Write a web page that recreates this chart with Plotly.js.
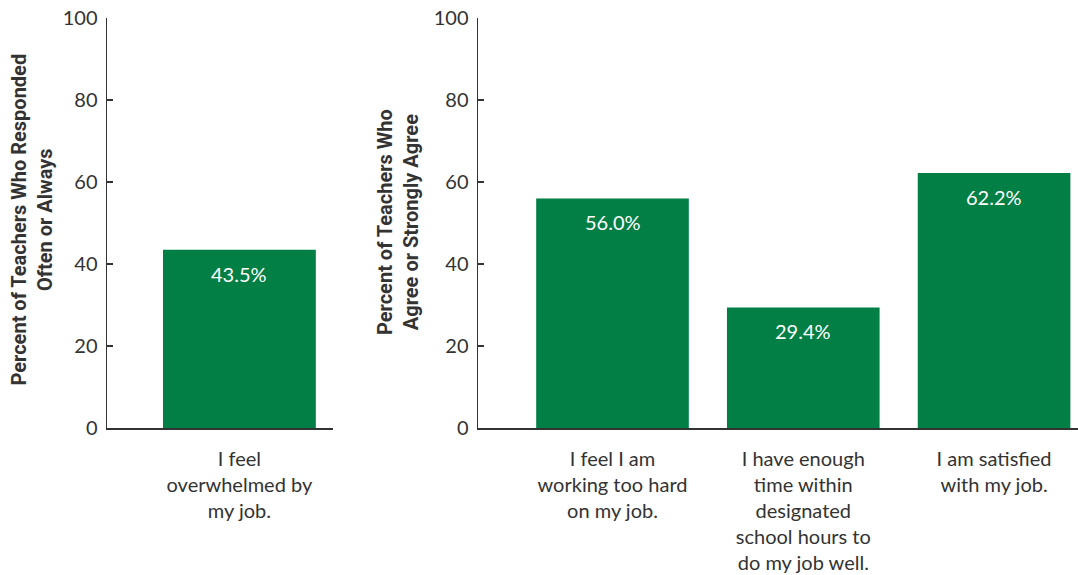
<!DOCTYPE html>
<html>
<head>
<meta charset="utf-8">
<script src="https://cdn.plot.ly/plotly-3.0.1.min.js"></script>
<style>html,body{margin:0;padding:0;background:#fff;}#chart{width:1078px;height:575px;}</style>
</head>
<body>
<div id="chart"></div>
<script>
const leftCategories = ["I feel<br>overwhelmed by<br>my job."];
const leftValues = [43.5];
const rightCategories = [
  "I feel I am<br>working too hard<br>on my job.",
  "I have enough<br>time within<br>designated<br>school hours to<br>do my job well.",
  "I am satisfied<br>with my job."
];
const rightValues = [56.0, 29.4, 62.2];
const yTicks = [0, 20, 40, 60, 80, 100];
const leftTitle = "Percent of Teachers Who Responded<br>Often or Always";
const rightTitle = "Percent of Teachers Who<br>Agree or Strongly Agree";

const green = "#017f45";
const fontFam = "Lato, 'Open Sans', sans-serif";
const titleFam = "Roboto, 'Liberation Sans', sans-serif";

const traces = [
  {
    type: "bar", x: leftCategories.map((c, i) => i), y: leftValues,
    xaxis: "x", yaxis: "y", width: 0.8,
    marker: { color: green }, hoverinfo: "skip"
  },
  {
    type: "bar", x: rightCategories.map((c, i) => i), y: rightValues,
    xaxis: "x2", yaxis: "y2", width: 0.8,
    marker: { color: green }, hoverinfo: "skip"
  }
];

function valueLabels(values, xref, yref) {
  return values.map((v, i) => ({
    x: i, y: v, xref: xref, yref: yref,
    text: v.toFixed(1) + "%", showarrow: false,
    xanchor: "center", yanchor: "middle", yshift: -24,
    font: { family: fontFam, size: 20, color: "#ffffff" }
  }));
}

const W = 1078, H = 575;
const yDom = [1 - 428 / H, 1 - 18 / H];
const yAxisCommon = {
  range: [0, 100], tickvals: yTicks, ticktext: yTicks.map(String),
  ticks: "inside", ticklen: 6, tickcolor: "#333", tickwidth: 1.5,
  showline: true, linecolor: "#333", linewidth: 1.5,
  showgrid: false, zeroline: false, fixedrange: true,
  tickfont: { family: fontFam, size: 20, color: "#333" },
  ticklabelstandoff: 4, domain: yDom
};
const xAxisCommon = {
  showline: true, linecolor: "#333", linewidth: 1.5,
  showgrid: false, zeroline: false, ticks: "", fixedrange: true,
  tickfont: { family: fontFam, size: 20, color: "#333" },
  tickangle: 0, ticklabelstandoff: 12
};

const layout = {
  width: W, height: H,
  margin: { l: 0, r: 0, t: 0, b: 0, pad: 0 },
  paper_bgcolor: "#fff", plot_bgcolor: "#fff",
  showlegend: false, bargap: 0.2,
  xaxis: Object.assign({}, xAxisCommon, {
    domain: [107 / W, 333 / W], anchor: "y",
    range: [-0.693, 0.49],
    tickvals: leftCategories.map((c, i) => i), ticktext: leftCategories
  }),
  yaxis: Object.assign({}, yAxisCommon, { anchor: "x" }),
  xaxis2: Object.assign({}, xAxisCommon, {
    domain: [478 / W, 1], anchor: "y2",
    range: [-0.705, 2.44],
    tickvals: rightCategories.map((c, i) => i), ticktext: rightCategories
  }),
  yaxis2: Object.assign({}, yAxisCommon, { anchor: "x2" }),
  annotations: [
    {
      text: "<b>" + leftTitle + "</b>", xref: "paper", yref: "paper",
      x: 31.5 / W, y: 1 - 220 / H, textangle: -90, showarrow: false,
      xanchor: "center", yanchor: "middle",
      font: { family: titleFam, size: 20, color: "#333" }
    },
    {
      text: "<b>" + rightTitle + "</b>", xref: "paper", yref: "paper",
      x: 398 / W, y: 1 - 222 / H, textangle: -90, showarrow: false,
      xanchor: "center", yanchor: "middle",
      font: { family: titleFam, size: 20, color: "#333" }
    }
  ].concat(valueLabels(leftValues, "x", "y"), valueLabels(rightValues, "x2", "y2"))
};

Plotly.newPlot("chart", traces, layout, { displayModeBar: false, staticPlot: true });
</script>
</body>
</html>
